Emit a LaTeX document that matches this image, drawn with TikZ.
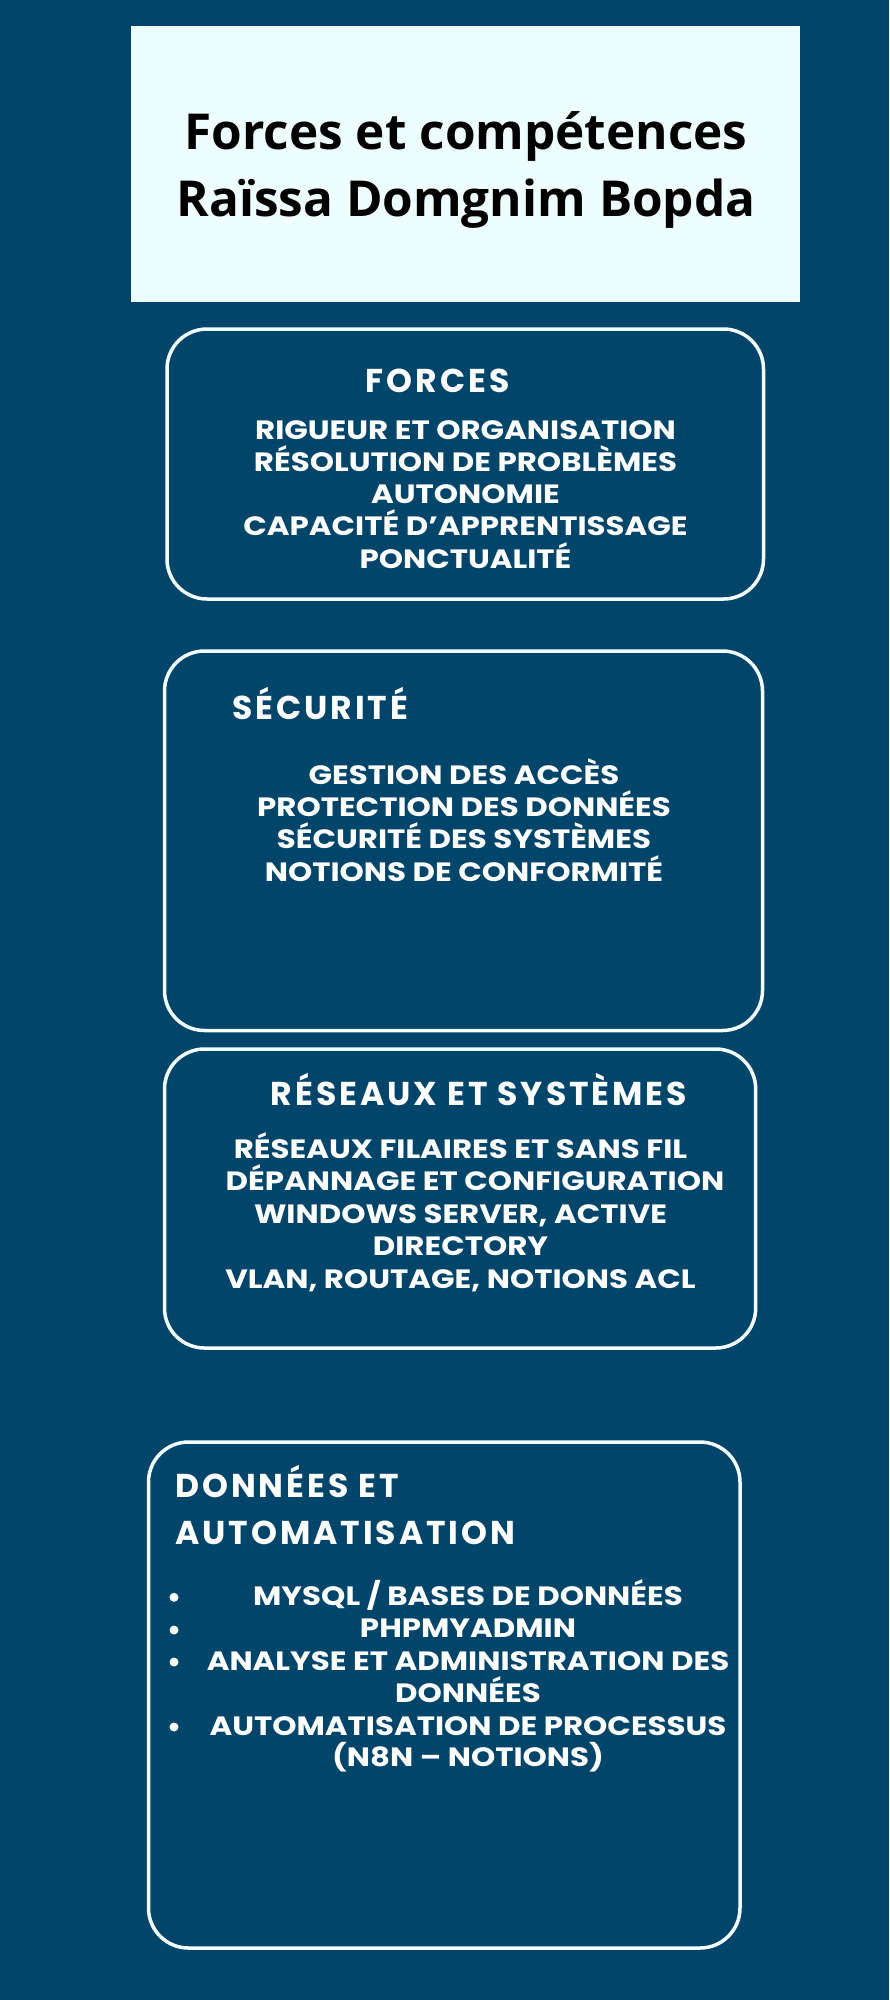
\documentclass[tikz,border=0pt]{standalone}
\usepackage{fontspec}
\setmainfont{Poppins}
\newfontfamily\bodyfont{Poppins}[FakeStretch=1.165]
\newfontfamily\headfont{Poppins}[LetterSpace=9]
\newfontfamily\titlefont{Open Sans}
\definecolor{bg}{HTML}{01456A}
\definecolor{titlebg}{HTML}{EEFDFD}
\definecolor{edge}{HTML}{F2FFFE}
\begin{document}
\begin{tikzpicture}[x=1pt,y=-1pt,
  card/.style={draw=edge, line width=3.5pt, rounded corners=40pt},
  body/.style={text=white, font=\bodyfont\bfseries\fontsize{26.5}{32}\selectfont, anchor=base, inner sep=0pt},
  head/.style={text=white, font=\headfont\bfseries\fontsize{33}{38}\selectfont, anchor=base, inner sep=0pt},
  ttl/.style={text=black, font=\titlefont\bfseries\fontsize{49.5}{56}\selectfont, anchor=base, inner sep=0pt},
  dot/.style={circle, fill=white, inner sep=0pt, minimum size=9pt}]
\fill[bg] (0,0) rectangle (889,2000);
\useasboundingbox (0,0) rectangle (889,2000);
% title box
\fill[titlebg] (131,26) rectangle (800,302);
\node[ttl] (t1) at (466,149.3) {Forces et compétences};
\node[ttl] (t2) at (466,216.7) {Raïssa Domgnim Bopda};
% forces
\draw[card] (167,329) rectangle (763.5,599);
\node[head] (h1) at (437.5,392.5) {FORCES};
\node[body] (f1) at (465.5,439) {RIGUEUR ET ORGANISATION};
\node[body] (f2) at (465.5,471.3) {RÉSOLUTION DE PROBLÈMES};
\node[body] (f3) at (465.5,503.6) {AUTONOMIE};
\node[body] (f4) at (465.5,535.9) {CAPACITÉ D’APPRENTISSAGE};
\node[body] (f5) at (465.5,568.2) {PONCTUALITÉ};
% securite
\draw[card] (164.5,651) rectangle (762.5,1030.5);
\node[head, anchor=base west] (h2) at (232,719.5) {SÉCURITÉ};
\node[body] (s1) at (464,784.1) {GESTION DES ACCÈS};
\node[body] (s2) at (464,816.2) {PROTECTION DES DONNÉES};
\node[body] (s3) at (464,848.7) {SÉCURITÉ DES SYSTÈMES};
\node[body] (s4) at (464,881.2) {NOTIONS DE CONFORMITÉ};
% reseaux
\draw[card] (164.5,1049) rectangle (755.7,1348);
\node[head] (h3) at (479,1105) {RÉSEAUX ET SYSTÈMES};
\node[body] (r1) at (460.5,1158) {RÉSEAUX FILAIRES ET SANS FIL};
\node[body] (r2) at (475,1190) {DÉPANNAGE ET CONFIGURATION};
\node[body] (r3) at (460.5,1223) {WINDOWS SERVER, ACTIVE};
\node[body] (r4) at (460.5,1255.5) {DIRECTORY};
\node[body] (r5) at (460.5,1288) {VLAN, ROUTAGE, NOTIONS ACL};
% donnees
\draw[card] (148.5,1442) rectangle (740,1948);
\node[head, anchor=base west] (h4a) at (175,1497.5) {DONNÉES ET};
\node[head, anchor=base west] (h4b) at (175,1544) {AUTOMATISATION};
\node[body] (d1) at (468,1605.5) {MYSQL / BASES DE DONNÉES};
\node[body] (d2) at (468,1637.3) {PHPMYADMIN};
\node[body] (d3) at (468,1670.6) {ANALYSE ET ADMINISTRATION DES};
\node[body] (d4) at (468,1702.3) {DONNÉES};
\node[body] (d5) at (468,1735.6) {AUTOMATISATION DE PROCESSUS};
\node[body] (d6) at (468,1766.6) {(N8N – NOTIONS)};
\node[dot] (b1) at (174,1597.3) {};
\node[dot] (b2) at (174,1630) {};
\node[dot] (b3) at (174,1662) {};
\node[dot] (b4) at (174,1727) {};
\end{tikzpicture}
\end{document}
